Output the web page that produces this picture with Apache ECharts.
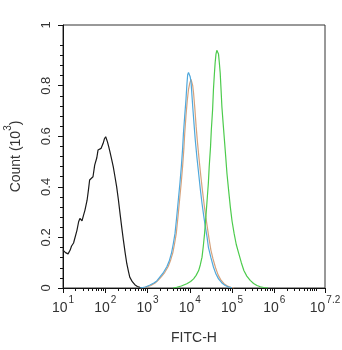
<!DOCTYPE html>
<html>
<head>
<meta charset="utf-8">
<script src="https://cdn.jsdelivr.net/npm/echarts@6/dist/echarts.min.js"></script>
<style>
html,body{margin:0;padding:0;background:#fff;}
#chart{width:342px;height:350px;}
</style>
</head>
<body>
<div id="chart"></div>
<script>
// x values are log10(FITC-H), y values are Count (10^3)
const unstained = [[1.00,0.149],[1.06,0.140],[1.12,0.135],[1.17,0.150],[1.20,0.165],[1.25,0.178],[1.28,0.182],[1.33,0.228],[1.37,0.262],[1.40,0.275],[1.45,0.266],[1.49,0.290],[1.52,0.308],[1.57,0.347],[1.60,0.385],[1.63,0.427],[1.67,0.433],[1.71,0.440],[1.75,0.486],[1.80,0.515],[1.83,0.546],[1.87,0.550],[1.90,0.552],[1.95,0.572],[1.98,0.590],[2.01,0.598],[2.05,0.579],[2.08,0.560],[2.11,0.539],[2.15,0.510],[2.19,0.479],[2.23,0.440],[2.27,0.400],[2.31,0.350],[2.35,0.294],[2.39,0.240],[2.43,0.188],[2.47,0.140],[2.51,0.096],[2.55,0.065],[2.58,0.043],[2.64,0.025],[2.70,0.013],[2.76,0.006],[2.82,0.003],[2.90,0.001],[2.98,0]];
const blueSeries = [[2.82,0],[2.95,0.004],[3.06,0.012],[3.15,0.020],[3.22,0.028],[3.30,0.045],[3.38,0.062],[3.46,0.085],[3.52,0.110],[3.57,0.140],[3.61,0.175],[3.65,0.215],[3.69,0.280],[3.73,0.350],[3.77,0.420],[3.80,0.480],[3.83,0.550],[3.85,0.612],[3.88,0.680],[3.91,0.745],[3.93,0.800],[3.95,0.843],[3.97,0.852],[3.99,0.850],[4.01,0.835],[4.03,0.815],[4.05,0.765],[4.07,0.717],[4.10,0.650],[4.13,0.585],[4.17,0.515],[4.21,0.453],[4.25,0.390],[4.29,0.334],[4.33,0.285],[4.37,0.241],[4.41,0.200],[4.44,0.162],[4.50,0.120],[4.56,0.083],[4.62,0.055],[4.68,0.036],[4.76,0.020],[4.84,0.010],[4.92,0.004],[5.00,0.001]];
const orangeSeries = [[2.85,0],[2.98,0.004],[3.08,0.010],[3.18,0.020],[3.25,0.030],[3.33,0.045],[3.41,0.062],[3.49,0.085],[3.55,0.112],[3.60,0.140],[3.64,0.175],[3.68,0.215],[3.72,0.280],[3.76,0.350],[3.80,0.420],[3.83,0.480],[3.86,0.550],[3.88,0.610],[3.91,0.680],[3.94,0.740],[3.97,0.785],[4.00,0.810],[4.03,0.825],[4.05,0.822],[4.07,0.800],[4.09,0.770],[4.12,0.710],[4.15,0.640],[4.18,0.580],[4.22,0.510],[4.26,0.445],[4.30,0.385],[4.34,0.330],[4.38,0.280],[4.42,0.235],[4.46,0.190],[4.50,0.150],[4.55,0.115],[4.61,0.080],[4.67,0.052],[4.73,0.033],[4.81,0.017],[4.89,0.008],[4.97,0.003],[5.05,0]];
const greenSeries = [[3.60,0],[3.69,0.003],[3.80,0.008],[3.93,0.017],[4.02,0.026],[4.09,0.036],[4.15,0.050],[4.21,0.069],[4.25,0.092],[4.29,0.122],[4.32,0.165],[4.35,0.215],[4.38,0.280],[4.41,0.347],[4.44,0.415],[4.46,0.480],[4.49,0.555],[4.51,0.625],[4.54,0.705],[4.56,0.784],[4.58,0.840],[4.60,0.890],[4.62,0.925],[4.64,0.940],[4.66,0.938],[4.68,0.925],[4.70,0.890],[4.72,0.850],[4.74,0.785],[4.76,0.717],[4.79,0.650],[4.82,0.585],[4.85,0.520],[4.88,0.453],[4.92,0.385],[4.96,0.320],[5.00,0.265],[5.05,0.215],[5.10,0.172],[5.16,0.136],[5.22,0.100],[5.28,0.069],[5.35,0.047],[5.43,0.030],[5.51,0.018],[5.59,0.010],[5.67,0.005],[5.75,0.002],[5.85,0]];

const xTickExponents = [1, 2, 3, 4, 5, 6, 7.2];
const xMinorTicks = [];
for (let n = 1; n <= 7; n++) {
  for (let k = 2; k <= 9; k++) {
    const v = n + Math.log10(k);
    if (v < 7.2) xMinorTicks.push(v);
  }
}
xMinorTicks.push(7);
const yTickValues = [0, 0.2, 0.4, 0.6, 0.8, 1.04];
const yTickLabels = ['0', '0.2', '0.4', '0.6', '0.8', '1'];
const yMinorTicks = [];
for (let i = 1; i <= 26; i++) { if (i % 5 !== 0) yMinorTicks.push(+(i * 0.04).toFixed(2)); }

const W = 342, H = 350;
const G = { left: 63, right: 17, top: 25, bottom: 62 };
const gridW = W - G.left - G.right;
const gridH = H - G.top - G.bottom;

const FONT = "'Liberation Sans', Arial, sans-serif";
const TXT = '#333';
const chart = echarts.init(document.getElementById('chart'));
chart.setOption({
  animation: false,
  backgroundColor: '#fff',
  grid: { left: G.left, right: G.right, top: G.top, bottom: G.bottom, outerBoundsMode: 'none', containLabel: false,
          show: true, borderColor: '#333', borderWidth: 1 },
  xAxis: [{
    type: 'value', min: 1, max: 7.2, position: 'bottom',
    name: 'FITC-H', nameLocation: 'middle', nameGap: 43,
    nameTextStyle: { fontFamily: FONT, fontSize: 14, color: TXT },
    axisLine: { lineStyle: { color: '#111', width: 1 } },
    axisTick: { customValues: xTickExponents, length: 5, lineStyle: { color: '#111' } },
    axisLabel: {
      customValues: xTickExponents, margin: 7,
      formatter: v => '{b|10}{s|' + v + '}',
      rich: {
        b: { fontFamily: FONT, fontSize: 14, color: TXT, lineHeight: 20, verticalAlign: 'bottom' },
        s: { fontFamily: FONT, fontSize: 10, color: TXT, lineHeight: 12, verticalAlign: 'top', padding: [0, 0, 0, 1] }
      }
    },
    splitLine: { show: false }
  }, {
    type: 'value', min: 1, max: 7.2, position: 'top', offset: -gridH,
    axisLine: { show: false },
    axisTick: { customValues: xMinorTicks, length: 3, inside: true, lineStyle: { color: '#111' } },
    axisLabel: { show: false },
    splitLine: { show: false }
  }],
  yAxis: [{
    type: 'value', min: 0, max: 1.04, position: 'left',
    name: '{a|Count (10}{s|3}{a|)}', nameLocation: 'middle', nameGap: 40, nameRotate: 90,
    nameTextStyle: {
      rich: {
        a: { fontFamily: FONT, fontSize: 14, color: TXT, lineHeight: 20, verticalAlign: 'bottom' },
        s: { fontFamily: FONT, fontSize: 10, color: TXT, lineHeight: 12, verticalAlign: 'top' }
      }
    },
    axisLine: { lineStyle: { color: '#111', width: 1 } },
    axisTick: { customValues: yTickValues, length: 5, lineStyle: { color: '#111' } },
    axisLabel: {
      customValues: yTickValues, rotate: 90, margin: 10,
      fontFamily: FONT, fontSize: 13, color: TXT,
      formatter: v => yTickLabels[yTickValues.indexOf(v)] ?? ''
    },
    splitLine: { show: false }
  }, {
    type: 'value', min: 0, max: 1.04, position: 'right', offset: -gridW,
    axisLine: { show: false },
    axisTick: { customValues: yMinorTicks, length: 3, inside: true, lineStyle: { color: '#111' } },
    axisLabel: { show: false },
    splitLine: { show: false }
  }],
  series: [
    { type: 'line', data: unstained, showSymbol: false, lineStyle: { color: '#1a1a1a', width: 1.2 } },
    { type: 'line', data: orangeSeries, showSymbol: false, lineStyle: { color: '#d6a27c', width: 1.2 } },
    { type: 'line', data: blueSeries, showSymbol: false, lineStyle: { color: '#4fa8dc', width: 1.2 } },
    { type: 'line', data: greenSeries, showSymbol: false, lineStyle: { color: '#4ccb4c', width: 1.2 } }
  ]
});
</script>
</body>
</html>
